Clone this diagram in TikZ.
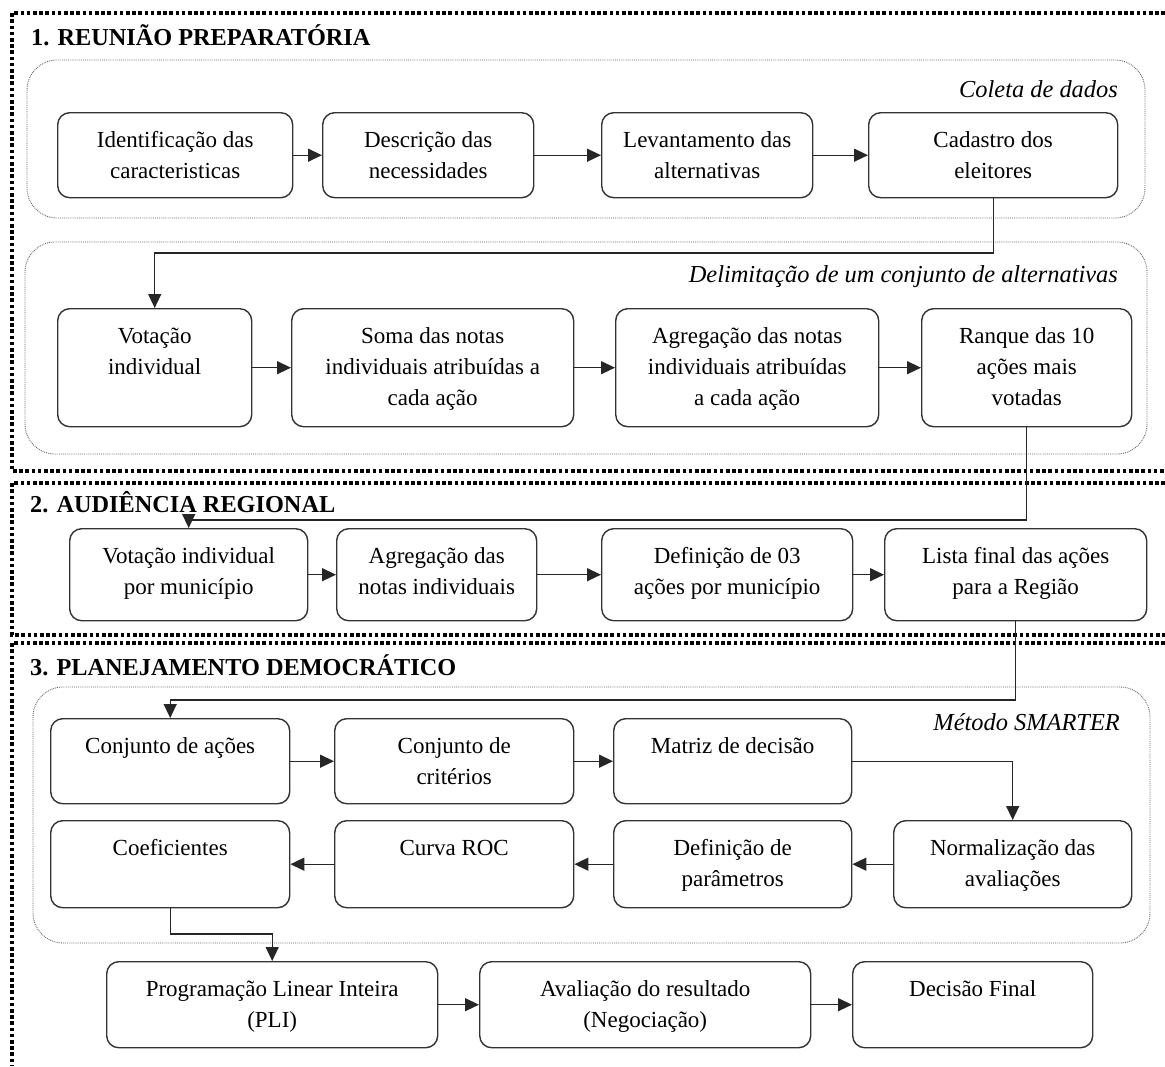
\documentclass[tikz,border=0pt]{standalone}
\usepackage{fontspec}
\setmainfont{Liberation Serif}
\usetikzlibrary{arrows.meta}
\newcommand\mkbox[6]{%
  \pgfmathsetmacro\bw{#4-#2}%
  \pgfmathsetmacro\bh{#5-#3}%
  \node[pbox, anchor=north west] (#1) at (#2,#3) {\parbox[c][\bh pt][t]{\bw pt}{\centering\fontsize{23}{31}\selectfont\rule{0pt}{35pt}#6\par}};}
\begin{document}
\begin{tikzpicture}[x=1pt,y=-1pt,
  sec/.style={line width=3.6pt, dash pattern=on 3.6pt off 2.6pt, draw=black},
  grp/.style={draw=black!60, line width=0.9pt, densely dotted, rounded corners=30pt},
  pbox/.style={draw=black!80, line width=1.4pt, rounded corners=12pt, inner sep=0pt},
  conn/.style={draw=black!85, line width=1.4pt, -{Triangle[length=14pt,width=13pt]}},
  head/.style={font=\fontsize{24.3}{28}\selectfont\bfseries, anchor=base west, inner sep=0pt},
  glabel/.style={font=\fontsize{24.4}{28}\selectfont\itshape, anchor=base east, inner sep=0pt}]
\useasboundingbox (0,0) rectangle (1165,1066);

% sections
\draw[sec] (1165,13) -- (12,13) -- (12,471) -- (1165,471);
\draw[sec] (1165,483) -- (12,483) -- (12,635) -- (1165,635);
\draw[sec] (1165,643) -- (12,643) -- (12,1066);

\node[head] (h1) at (31,45) {1. REUNIÃO PREPARATÓRIA};
\node[head] (h2) at (30,512) {2. AUDIÊNCIA REGIONAL};
\node[head] (h3) at (30,675) {3. PLANEJAMENTO DEMOCRÁTICO};

% groups
\draw[grp] (27,60) rectangle (1145,218);
\draw[grp] (25,242) rectangle (1147,454);
\draw[grp] (33,687) rectangle (1150,943);

\node[glabel] (g1) at (1118,97) {Coleta de dados};
\node[glabel] (g2) at (1118,282) {Delimitação de um conjunto de alternativas};
\node[glabel] (g3) at (1120,730) {Método SMARTER};

% row 1
\mkbox{n1}{57}{112}{292}{197}{Identificação das\\caracteristicas}
\mkbox{n2}{322}{112}{533}{197}{Descrição das\\necessidades}
\mkbox{n3}{601}{112}{812}{197}{Levantamento das\\alternativas}
\mkbox{n4}{868}{112}{1117}{197}{Cadastro dos\\eleitores}

% row 2
\mkbox{m1}{57}{308}{251}{426}{Votação\\individual}
\mkbox{m2}{291}{308}{573}{426}{Soma das notas\\individuais atribuídas a\\cada ação}
\mkbox{m3}{615}{308}{878}{426}{Agregação das notas\\individuais atribuídas\\a cada ação}
\mkbox{m4}{921}{308}{1131}{426}{Ranque das 10\\ações mais\\votadas}

% section 2
\mkbox{a1}{69}{528}{307}{620}{Votação individual\\por município}
\mkbox{a2}{336}{528}{536}{620}{Agregação das\\notas individuais}
\mkbox{a3}{601}{528}{852}{620}{Definição de 03\\ações por município}
\mkbox{a4}{884}{528}{1146}{620}{Lista final das ações\\para a Região}

% section 3
\mkbox{s1}{50}{718}{289}{803}{Conjunto de ações}
\mkbox{s2}{334}{718}{573}{803}{Conjunto de\\critérios}
\mkbox{s3}{613}{718}{851}{803}{Matriz de decisão}
\mkbox{s4}{893}{820}{1131}{907}{Normalização das\\avaliações}
\mkbox{s5}{613}{820}{851}{907}{Definição de\\parâmetros}
\mkbox{s6}{334}{820}{573}{907}{Curva ROC}
\mkbox{s7}{50}{820}{289}{907}{Coeficientes}

\mkbox{p1}{106}{961}{437}{1047}{Programação Linear Inteira\\(PLI)}
\mkbox{p2}{479}{961}{810}{1047}{Avaliação do resultado\\(Negociação)}
\mkbox{p3}{852}{961}{1092}{1047}{Decisão Final}

% straight connectors
\draw[conn] (n1) -- (n2);
\draw[conn] (n2) -- (n3);
\draw[conn] (n3) -- (n4);
\draw[conn] (m1) -- (m2);
\draw[conn] (m2) -- (m3);
\draw[conn] (m3) -- (m4);
\draw[conn] (a1) -- (a2);
\draw[conn] (a2) -- (a3);
\draw[conn] (a3) -- (a4);
\draw[conn] (s1) -- (s2);
\draw[conn] (s2) -- (s3);
\draw[conn] (s4) -- (s5);
\draw[conn] (s5) -- (s6);
\draw[conn] (s6) -- (s7);
\draw[conn] (p1) -- (p2);
\draw[conn] (p2) -- (p3);

% elbow connectors
\coordinate (k1) at (0,253);
\coordinate (k2) at (0,520);
\coordinate (k3) at (0,700);
\coordinate (k4) at (0,934);
\draw[conn] (n4.south) -- (n4.south |- k1) -| (m1.north);
\draw[conn] (m4.south) -- (m4.south |- k2) -| (a1.north);
\draw[conn] (a4.south) -- (a4.south |- k3) -| (s1.north);
\draw[conn] (s3.east) -| (s4.north);
\draw[conn] (s7.south) -- (s7.south |- k4) -| (p1.north);
\end{tikzpicture}
\end{document}
